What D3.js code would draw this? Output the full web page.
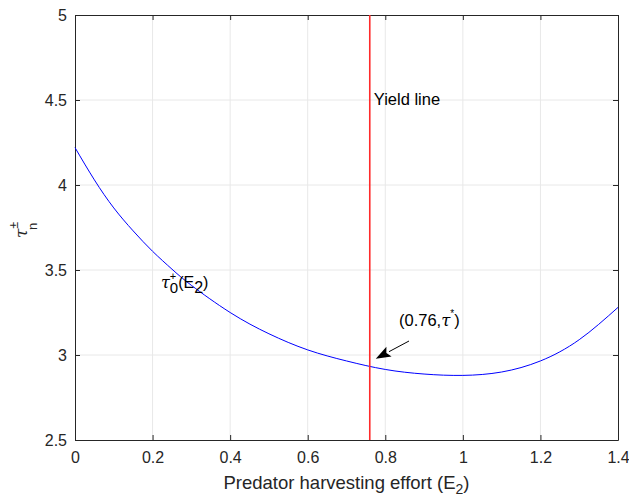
<!DOCTYPE html>
<meta charset="utf-8">
<style>
	body { margin: 0; background: #fff; }
	text { font-family: "Liberation Sans", Arial, sans-serif; }
	.tick text { font-size: 16px; fill: #262626; }
	.tick line { stroke: #262626; }
	.domain { stroke: #262626; }
	.greek { font-family: "DejaVu Serif", serif; font-style: italic; }
</style>
<body>
<script src="https://d3js.org/d3.v7.min.js"></script>
<script>

	//Curve
	var effort = [0, 0.05, 0.1, 0.15, 0.2, 0.25, 0.3, 0.4, 0.5, 0.6, 0.7, 0.8, 0.9, 1.0, 1.1, 1.2, 1.3, 1.4];
	var tau = [4.22, 4.03, 3.865, 3.73, 3.61, 3.505, 3.41, 3.25, 3.125, 3.03, 2.965, 2.915, 2.888, 2.88, 2.90, 2.965, 3.09, 3.28];
	var xTicks = [0, 0.2, 0.4, 0.6, 0.8, 1, 1.2, 1.4];
	var yTicks = [2.5, 3, 3.5, 4, 4.5, 5];
	var yieldE = 0.76;
	var tauStar = 2.925;

	var width = 629, height = 494;
	var m = {left: 75, right: 11, top: 15, bottom: 54};

	var svg = d3.select("body").append("svg")
		.attr("width", width)
		.attr("height", height);

	var x = d3.scaleLinear().domain([0, 1.4]).range([m.left, width - m.right]);
	var y = d3.scaleLinear().domain([2.5, 5]).range([height - m.bottom, m.top]);

	//Grid
	svg.append("g").selectAll("line")
		.data(xTicks.slice(1, -1))
		.enter().append("line")
		.attr("x1", function(d) { return x(d); })
		.attr("x2", function(d) { return x(d); })
		.attr("y1", y(2.5)).attr("y2", y(5))
		.attr("stroke", "#e8e8e8");
	svg.append("g").selectAll("line")
		.data(yTicks.slice(1, -1))
		.enter().append("line")
		.attr("y1", function(d) { return y(d); })
		.attr("y2", function(d) { return y(d); })
		.attr("x1", x(0)).attr("x2", x(1.4))
		.attr("stroke", "#e8e8e8");

	//Axes, ticks pointing inside
	var fmt = function(d) { return String(d); };
	svg.append("g")
		.attr("transform", "translate(0," + y(2.5) + ")")
		.call(d3.axisBottom(x).tickValues(xTicks).tickFormat(fmt).tickSizeInner(-5).tickSizeOuter(0).tickPadding(12));
	svg.append("g")
		.attr("transform", "translate(0," + y(5) + ")")
		.call(d3.axisTop(x).tickValues(xTicks).tickFormat("").tickSizeInner(-5).tickSizeOuter(0));
	svg.append("g")
		.attr("transform", "translate(" + x(0) + ",0)")
		.call(d3.axisLeft(y).tickValues(yTicks).tickFormat(fmt).tickSizeInner(-5).tickSizeOuter(0).tickPadding(8));
	svg.append("g")
		.attr("transform", "translate(" + x(1.4) + ",0)")
		.call(d3.axisRight(y).tickValues(yTicks).tickFormat("").tickSizeInner(-5).tickSizeOuter(0));

	//Blue curve
	var line = d3.line()
		.x(function(d, i) { return x(effort[i]); })
		.y(function(d) { return y(d); })
		.curve(d3.curveNatural);
	svg.append("path")
		.datum(tau)
		.attr("d", line)
		.attr("fill", "none")
		.attr("stroke", "#0000ff")
		.attr("stroke-width", 1);

	//Yield line
	svg.append("line")
		.attr("x1", x(yieldE)).attr("x2", x(yieldE))
		.attr("y1", y(2.5)).attr("y2", y(5))
		.attr("stroke", "#ff2a2a")
		.attr("stroke-width", 1.6);

	svg.append("text")
		.attr("x", x(yieldE) + 4).attr("y", y(4.5) + 5)
		.attr("font-size", "16.5px")
		.text("Yield line");

	//Curve label  tau_0^+(E_2)
	var lab = svg.append("text")
		.attr("x", 161).attr("y", 288)
		.attr("font-size", "16px");
	lab.append("tspan").attr("class", "greek").text("\u03C4");
	lab.append("tspan").attr("font-size", "11px").attr("dy", -8).text("+");
	lab.append("tspan").attr("font-size", "15px").attr("dx", -6.5).attr("dy", 13).text("0");
	lab.append("tspan").attr("dy", -5).text("(E");
	lab.append("tspan").attr("dy", 5).text("2");
	lab.append("tspan").attr("dy", -5).text(")");

	//Annotation with arrow
	var ann = svg.append("text")
		.attr("x", 399).attr("y", 326)
		.attr("font-size", "16.5px");
	ann.append("tspan").text("(0.76,");
	ann.append("tspan").attr("class", "greek").text("\u03C4");
	ann.append("tspan").attr("font-size", "10px").attr("dy", -9).text("*");
	ann.append("tspan").attr("dy", 9).text(")");

	var ax0 = 409, ay0 = 341, ax1 = x(yieldE) + 6, ay1 = y(tauStar) - 9;
	var ang = Math.atan2(ay1 - ay0, ax1 - ax0);
	var L = 15, W = 5.5;
	var bx = ax1 - L * Math.cos(ang), by = ay1 - L * Math.sin(ang);
	svg.append("line")
		.attr("x1", ax0).attr("y1", ay0).attr("x2", bx).attr("y2", by)
		.attr("stroke", "#000").attr("stroke-width", 1);
	svg.append("path")
		.attr("d", "M" + ax1 + "," + ay1 +
			"L" + (bx + W * Math.sin(ang)) + "," + (by - W * Math.cos(ang)) +
			"L" + (ax1 - (L - 3) * Math.cos(ang)) + "," + (ay1 - (L - 3) * Math.sin(ang)) +
			"L" + (bx - W * Math.sin(ang)) + "," + (by + W * Math.cos(ang)) + "Z")
		.attr("fill", "#000");

	//Axis labels
	var xl = svg.append("text")
		.attr("x", (x(0) + x(1.4)) / 2).attr("y", 489)
		.attr("text-anchor", "middle")
		.attr("font-size", "18.5px")
		.attr("fill", "#262626");
	xl.append("tspan").text("Predator harvesting effort (E");
	xl.append("tspan").attr("font-size", "14px").attr("dy", 5).text("2");
	xl.append("tspan").attr("dy", -5).text(")");

	var yl = svg.append("text")
		.attr("transform", "translate(27,238) rotate(-90)")
		.attr("font-size", "17px")
		.attr("fill", "#262626");
	yl.append("tspan").attr("class", "greek").text("\u03C4");
	yl.append("tspan").attr("font-size", "12px").attr("dy", -9).text("\u00B1");
	yl.append("tspan").attr("font-size", "13px").attr("dx", -8).attr("dy", 19).text("n");

</script>
</body>
